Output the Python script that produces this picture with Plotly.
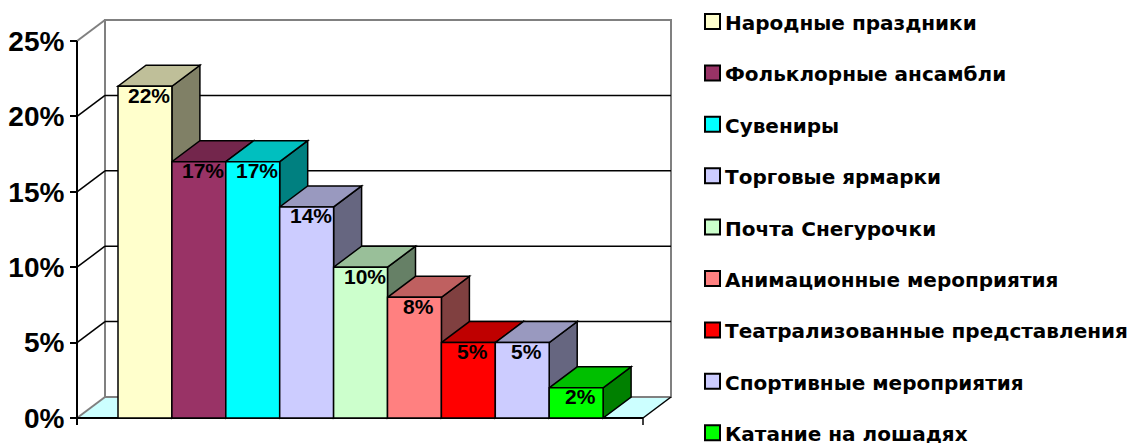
import plotly.graph_objects as go

# ---------------- data ----------------
categories = ["Народные праздники", "Фольклорные ансамбли", "Сувениры",
              "Торговые ярмарки", "Почта Снегурочки", "Анимационные мероприятия",
              "Театрализованные представления", "Спортивные мероприятия",
              "Катание на лошадях"]
values = [22, 17, 17, 14, 10, 8, 5, 5, 2]
labels = ["22%", "17%", "17%", "14%", "10%", "8%", "5%", "5%", "2%"]
front_colors = ["#FFFFCC", "#993366", "#00FFFF", "#CCCCFF", "#CCFFCC",
                "#FF8080", "#FF0000", "#CCCCFF", "#00FF00"]
tick_vals = [0, 5, 10, 15, 20, 25]
tick_text = ["0%", "5%", "10%", "15%", "20%", "25%"]

# ---------------- geometry ----------------
W, H = 1135, 443
PL, PR, PT, PB = 60, 690, 10, 430          # plot area in pixels
SX = 53.9                                   # px per category
SY = 15.08                                  # px per percent
X0PX, Y0PX = 118, 418                       # pixel of x=-0.5, y=0
def px2x(p): return -0.5 + (p - X0PX) / SX
def py2y(p): return (Y0PX - p) / SY
xr = [px2x(PL), px2x(PR)]
yr = [py2y(PB), py2y(PT)]
DX = 28 / SX
DY = 21 / SY
XF0 = px2x(77)      # front-left corner (value axis)
XF1 = px2x(643)     # front-right corner of floor
YMAX = 25

def shade(hexc, f):
    h = hexc.lstrip("#")
    r, g, b = (int(h[i:i + 2], 16) for i in (0, 2, 4))
    return "rgb(%d,%d,%d)" % (round(r * f), round(g * f), round(b * f))

def path(pts):
    return "M " + " L ".join("%f,%f" % p for p in pts) + " Z"

GRAY = "#808080"
shapes = []
# back wall
shapes.append(dict(type="rect", xref="x", yref="y", x0=XF0 + DX, x1=XF1 + DX,
                   y0=DY, y1=YMAX + DY, fillcolor="white",
                   line=dict(color=GRAY, width=2), layer="below"))
# floor
shapes.append(dict(type="path", xref="x", yref="y",
                   path=path([(XF0, 0), (XF1, 0), (XF1 + DX, DY), (XF0 + DX, DY)]),
                   fillcolor="#CCFFFF", line=dict(width=0), layer="below"))
# floor left edge and left wall top (gray)
for yv in (0, YMAX):
    shapes.append(dict(type="line", xref="x", yref="y", x0=XF0, y0=yv,
                       x1=XF0 + DX, y1=yv + DY, line=dict(color=GRAY, width=2),
                       layer="below"))
shapes.append(dict(type="line", xref="x", yref="y", x0=XF0 + DX, y0=DY,
                   x1=XF1 + DX, y1=DY, line=dict(color=GRAY, width=2), layer="below"))
# gridlines
for v in tick_vals[1:-1]:
    shapes.append(dict(type="line", xref="x", yref="y", x0=XF0 + DX, y0=v + DY,
                       x1=XF1 + DX, y1=v + DY, line=dict(color="black", width=1.5),
                       layer="below"))
    shapes.append(dict(type="line", xref="x", yref="y", x0=XF0, y0=v,
                       x1=XF0 + DX, y1=v + DY, line=dict(color="black", width=1.5),
                       layer="below"))
# floor right edge, category axis, value axis
shapes.append(dict(type="line", xref="x", yref="y", x0=XF1, y0=0, x1=XF1 + DX, y1=DY,
                   line=dict(color="black", width=1.5), layer="below"))
shapes.append(dict(type="line", xref="x", yref="y", x0=XF0, y0=0, x1=XF1, y1=0,
                   line=dict(color="black", width=2), layer="below"))
shapes.append(dict(type="line", xref="x", yref="y", x0=XF1, y0=0, x1=XF1, y1=-7 / SY,
                   line=dict(color="black", width=1.5), layer="below"))
shapes.append(dict(type="line", xref="x", yref="y", x0=XF0, y0=YMAX, x1=XF0, y1=-7 / SY,
                   line=dict(color="black", width=2), layer="below"))
# 3D bar sides and tops
for i, (v, c) in enumerate(zip(values, front_colors)):
    L, R = i - 0.5, i + 0.5
    shapes.append(dict(type="path", xref="x", yref="y",
                       path=path([(R, 0), (R, v), (R + DX, v + DY), (R + DX, DY)]),
                       fillcolor=shade(c, 0.5), line=dict(color="black", width=1.5),
                       layer="below"))
    shapes.append(dict(type="path", xref="x", yref="y",
                       path=path([(L, v), (R, v), (R + DX, v + DY), (L + DX, v + DY)]),
                       fillcolor=shade(c, 0.75), line=dict(color="black", width=1.5),
                       layer="below"))

fig = go.Figure()
fig.add_trace(go.Bar(x=list(range(len(values))), y=values, width=1,
                     marker=dict(color=front_colors, line=dict(color="black", width=1.5)),
                     showlegend=False, hoverinfo="skip"))

annotations = []
for i, (v, t) in enumerate(zip(values, labels)):
    annotations.append(dict(x=i, y=v, xref="x", yref="y", text=t, showarrow=False,
                            yshift=-9, xshift=4,
                            font=dict(family="Liberation Sans", size=21, color="black",
                                      weight="bold")))

# manual legend
def ppx(p): return (p - PL) / (PR - PL)
def ppy(p): return (PB - p) / (PB - PT)
for k, (name, c) in enumerate(zip(categories, front_colors)):
    yc = 22 + 51.4 * k
    shapes.append(dict(type="rect", xref="paper", yref="paper",
                       x0=ppx(705), x1=ppx(720), y0=ppy(yc - 8), y1=ppy(yc + 7),
                       fillcolor=c, line=dict(color="black", width=2)))
    annotations.append(dict(x=ppx(723), y=ppy(yc + 1), xref="paper", yref="paper",
                            xanchor="left", yanchor="middle", text=name, showarrow=False,
                            font=dict(family="DejaVu Sans", size=20, color="black",
                                      weight="bold")))

fig.update_layout(
    width=W, height=H,
    margin=dict(l=PL, r=W - PR, t=PT, b=H - PB, autoexpand=False),
    paper_bgcolor="white", plot_bgcolor="rgba(0,0,0,0)",
    shapes=shapes, annotations=annotations, showlegend=False,
    xaxis=dict(range=xr, showgrid=False, zeroline=False, showline=False,
               showticklabels=False, ticks="", fixedrange=True, automargin=False),
    yaxis=dict(range=yr, anchor="free", position=(77 - PL) / (PR - PL),
               tickvals=tick_vals, ticktext=tick_text, ticks="outside", ticklen=7,
               tickwidth=2, tickcolor="black", showgrid=False, zeroline=False,
               showline=False, automargin=False,
               tickfont=dict(family="Liberation Sans", size=28, color="black",
                             weight="bold")),
)
fig.write_html("out.html", config={"displayModeBar": False},
               post_script="document.body.style.margin='0';document.body.style.overflow='hidden';")
